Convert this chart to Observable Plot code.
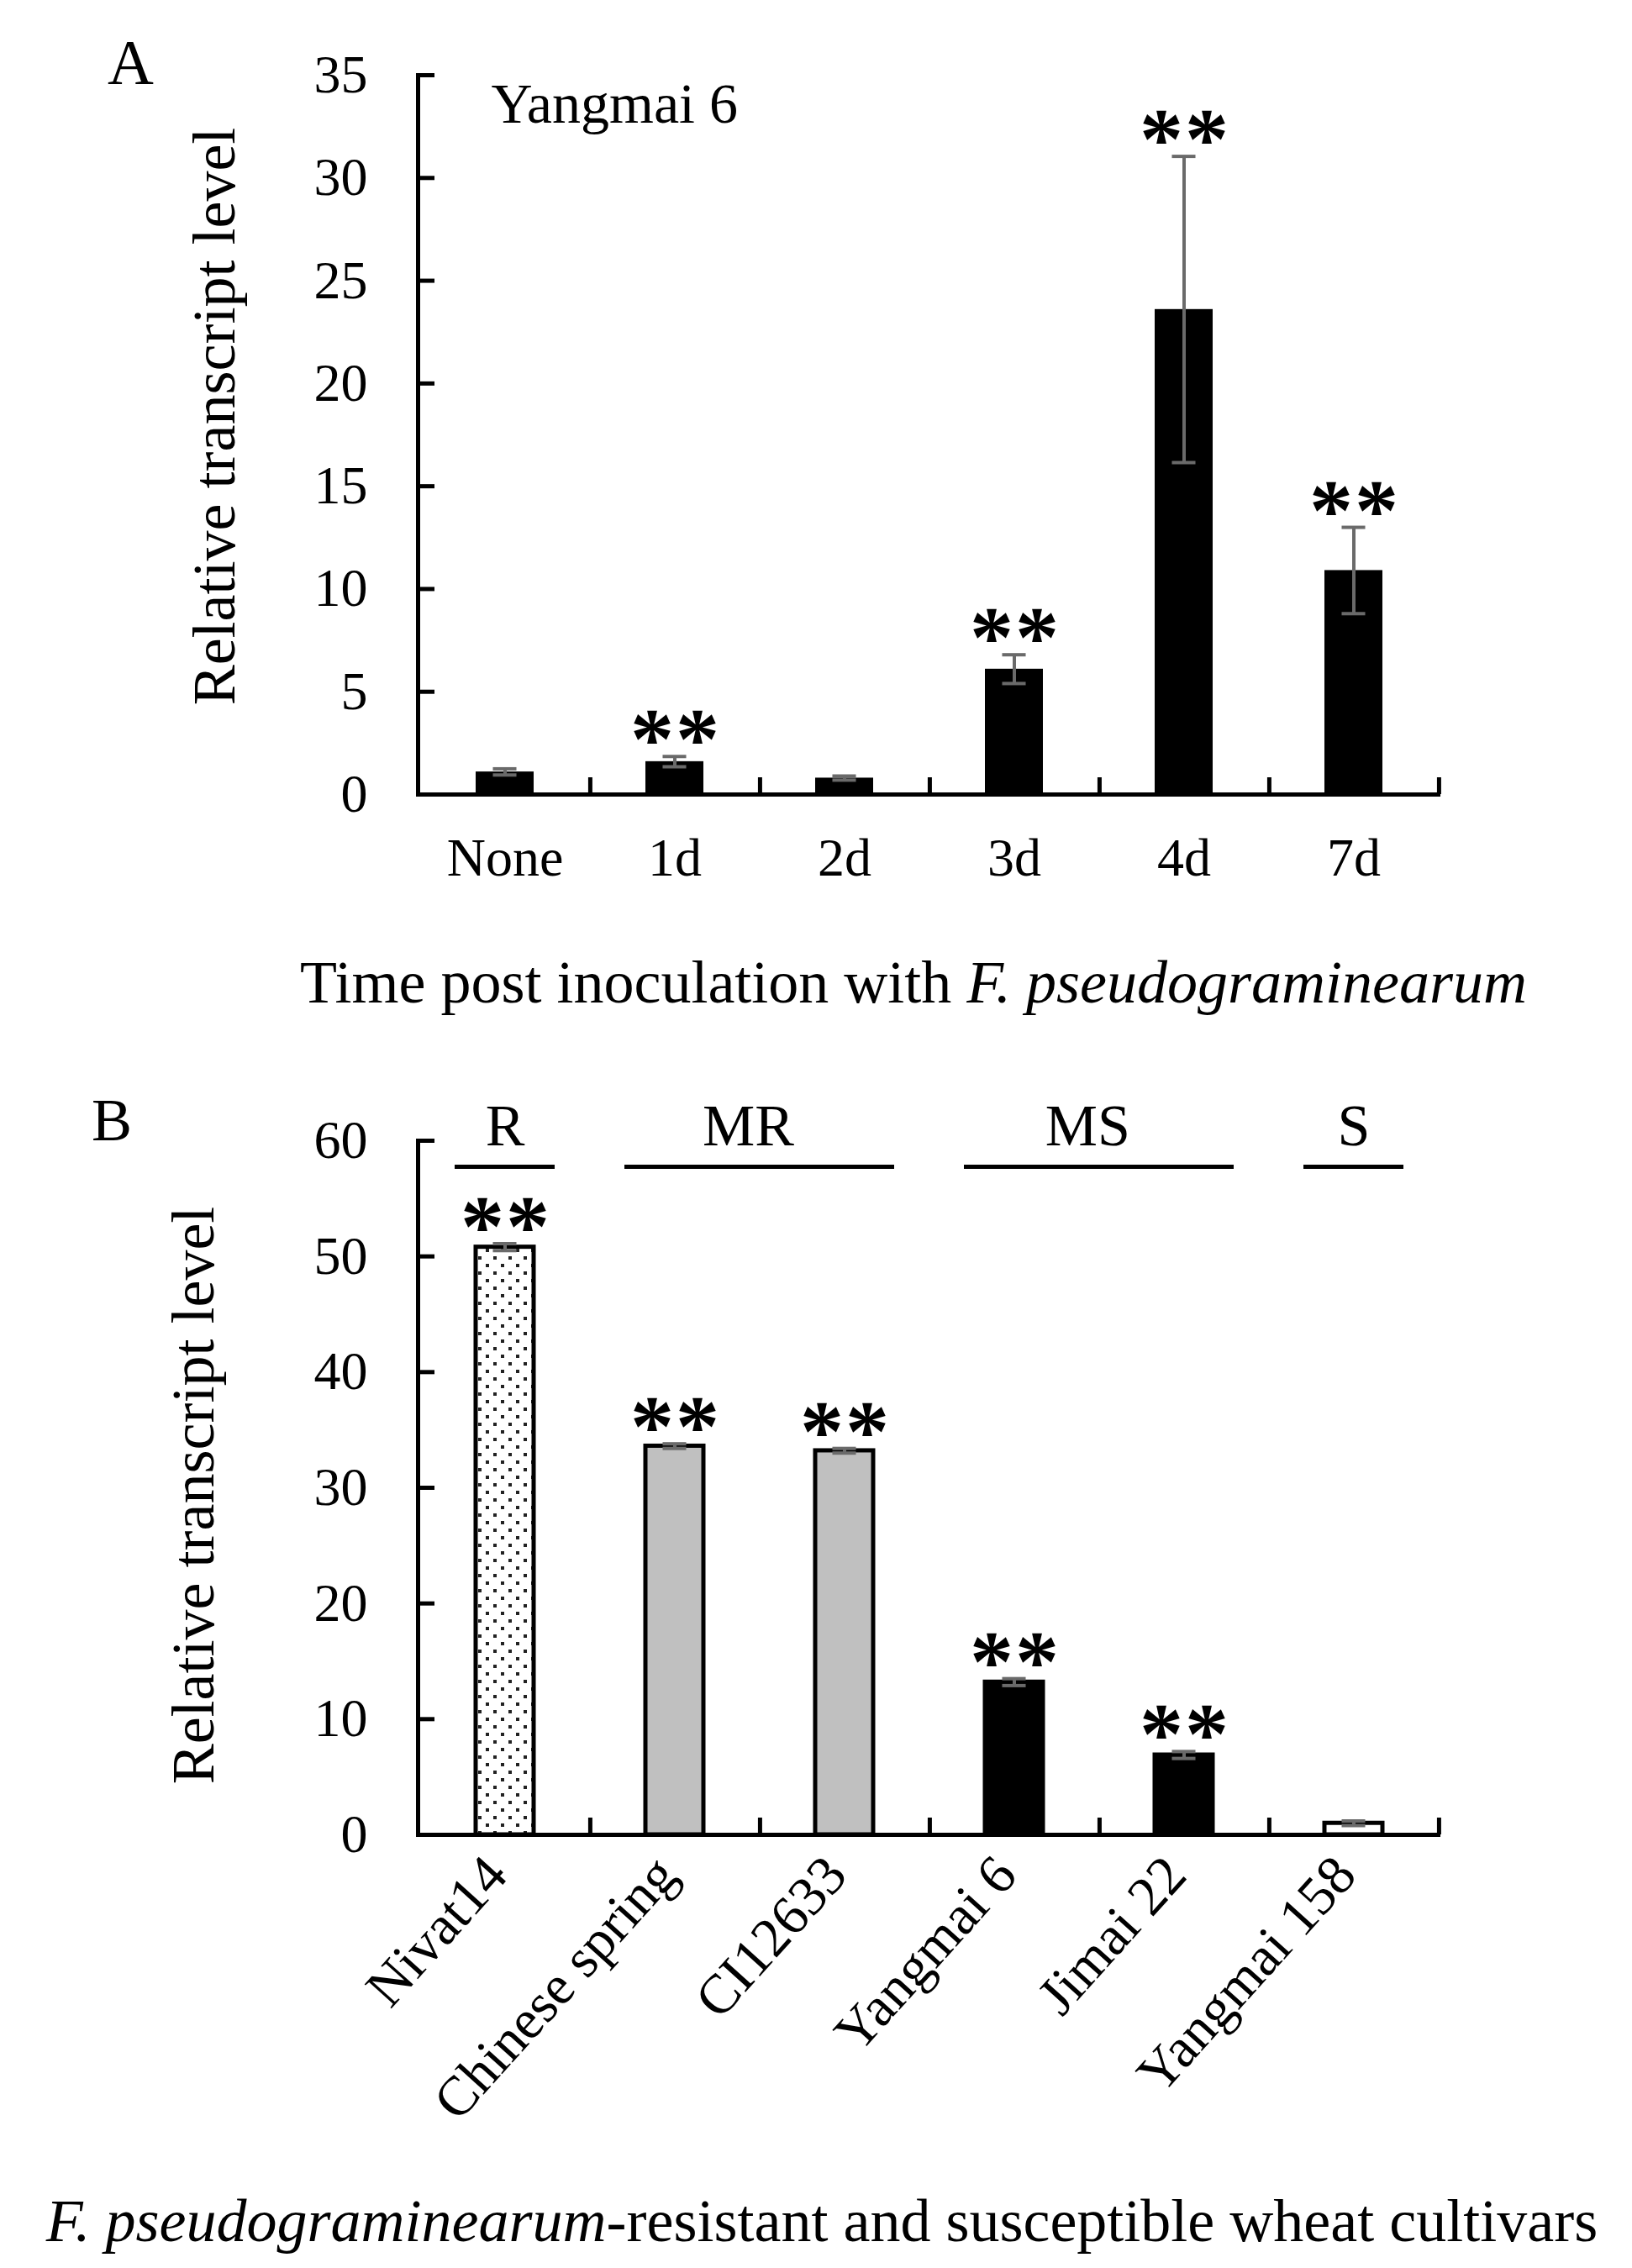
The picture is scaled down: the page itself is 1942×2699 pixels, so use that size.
<!DOCTYPE html>
<html><head><meta charset="utf-8">
<script src="https://cdn.jsdelivr.net/npm/d3@7"></script>
<script src="https://cdn.jsdelivr.net/npm/@observablehq/plot@0.6"></script>
<style>
body{margin:0;background:#fff;}
#root{position:relative;width:1942px;height:2699px;background:#fff;font-family:"Liberation Serif","Times New Roman",serif;color:#000;overflow:hidden}
.abs{position:absolute;white-space:nowrap;line-height:1}
.plot{position:absolute;left:0;overflow:visible}
</style></head><body>
<div id="root">
<svg width="0" height="0" style="position:absolute"><defs>
<pattern id="dots" patternUnits="userSpaceOnUse" width="18" height="18">
<rect width="18" height="18" fill="#fff"/>
<rect x="2" y="2" width="4" height="4" fill="#222"/>
<rect x="11" y="11" width="4" height="4" fill="#222"/>
</pattern></defs></svg>
</div>
<script>
// ---- Panel A data ----
const timeLabels = ["None", "1d", "2d", "3d", "4d", "7d"];
const timeMeans = [1.1, 1.6, 0.8, 6.1, 23.6, 10.9];
const timeErrors = [0.15, 0.25, 0.1, 0.7, 7.45, 2.1];
const timeSignif = ["", "**", "", "**", "**", "**"];
const yTicksA = [0, 5, 10, 15, 20, 25, 30, 35];
const panelAInset = "Yangmai 6";
const yTitle = "Relative transcript level";

// ---- Panel B data ----
const cultivars = ["Nivat14", "Chinese spring", "CI12633", "Yangmai 6", "Jimai 22", "Yangmai 158"];
const cultivarMeans = [50.8, 33.6, 33.2, 13.2, 6.9, 1.0];
const cultivarErrors = [0.3, 0.2, 0.2, 0.3, 0.3, 0.2];
const cultivarSignif = ["**", "**", "**", "**", "**", ""];
const yTicksB = [0, 10, 20, 30, 40, 50, 60];
const groupNames = ["R", "MR", "MS", "S"];
const groupFirst = ["Nivat14", "Chinese spring", "Yangmai 6", "Yangmai 158"];
const groupLast = ["Nivat14", "CI12633", "Jimai 22", "Yangmai 158"];

// ---- styles ----
const fillsB = ["url(#dots)", "#c0c0c0", "#c0c0c0", "#000", "#000", "#fff"];
const errColor = "#6a6a6a";
const FONT = "Liberation Serif";
const W = 1942, ML = 497, MR = 228;
const step = (W - ML - MR) / 6;
const pIn = 0.66;
const bandW = step * (1 - pIn);
const capInset = (bandW - 28) / 2;

const dataA = timeLabels.map((c, i) => ({cat: c, v: timeMeans[i], e: timeErrors[i], sig: timeSignif[i]}));
const dataB = cultivars.map((c, i) => ({cat: c, v: cultivarMeans[i], e: cultivarErrors[i], sig: cultivarSignif[i], fill: fillsB[i]}));
const groups = groupNames.map((g, i) => ({name: g, first: groupFirst[i], last: groupLast[i],
  span: cultivars.indexOf(groupLast[i]) - cultivars.indexOf(groupFirst[i])}));

function errMarks(data) {
  return [
    Plot.ruleX(data, {x: "cat", y1: d => d.v - d.e, y2: d => d.v + d.e, stroke: errColor, strokeWidth: 4}),
    Plot.tickY(data, {x: "cat", y: d => d.v + d.e, stroke: errColor, strokeWidth: 4, insetLeft: capInset, insetRight: capInset}),
    Plot.tickY(data, {x: "cat", y: d => d.v - d.e, stroke: errColor, strokeWidth: 4, insetLeft: capInset, insetRight: capInset})
  ];
}
function starMarks(data) {
  const s = data.filter(d => d.sig);
  return [-1, 1].map(k => Plot.text(s, {x: "cat", y: d => d.v + d.e, text: d => d.sig.slice(0, 1),
    lineAnchor: "bottom", dy: 14, dx: k * 27, fontSize: 104, fontWeight: "bold", fontFamily: FONT}));
}
function axisMarks(ticks) {
  return [
    Plot.axisY({ticks, tickSize: 20, dx: 20, fill: "none", strokeWidth: 5, label: null}),
    Plot.axisY({ticks, tickSize: 0, tickPadding: 60, label: null, fontSize: 64}),
    Plot.axisX({tickSize: 20, dy: -20, dx: step / 2, fill: "none", strokeWidth: 5, label: null}),
    Plot.frame({anchor: "left", strokeWidth: 5}),
    Plot.ruleY([0], {stroke: "#000", strokeWidth: 5})
  ];
}

// ---- Panel A ----
const plotA = Plot.plot({
  width: W, height: 1100,
  marginTop: 89, marginBottom: 155, marginLeft: ML, marginRight: MR,
  style: {fontFamily: FONT, fontSize: "64px", color: "#000", background: "transparent"},
  x: {domain: timeLabels, paddingInner: pIn, paddingOuter: pIn / 2, axis: null},
  y: {domain: [0, 35], axis: null},
  marks: [
    Plot.barY(dataA, {x: "cat", y: "v", fill: "#000"}),
    ...errMarks(dataA),
    ...starMarks(dataA),
    ...axisMarks(yTicksA),
    Plot.axisX({tickSize: 0, tickPadding: 51, label: null, fontSize: 64}),
    Plot.text([panelAInset], {frameAnchor: "top-left", textAnchor: "start", lineAnchor: "bottom", dx: 87, dy: 56, fontSize: 68}),
    Plot.text([yTitle], {frameAnchor: "left", textAnchor: "middle", rotate: -90, dx: 255 - ML, dy: -22, fontSize: 72})
  ]
});
plotA.classList.add("plot");
plotA.style.top = "0px";

// ---- Panel B ----
const plotB = Plot.plot({
  width: W, height: 1449,
  marginTop: 107, marginBottom: 516, marginLeft: ML, marginRight: MR,
  style: {fontFamily: FONT, fontSize: "64px", color: "#000", background: "transparent"},
  x: {domain: cultivars, paddingInner: pIn, paddingOuter: pIn / 2, axis: null},
  y: {domain: [0, 60], axis: null},
  color: {type: "identity"},
  marks: [
    Plot.barY(dataB, {x: "cat", y: "v", fill: "fill", stroke: "#000", strokeWidth: 5}),
    ...errMarks(dataB),
    ...starMarks(dataB),
    ...axisMarks(yTicksB),
    Plot.axisX({tickSize: 0, tickPadding: 36, tickRotate: -48, dx: -10, label: null, fontSize: 66}),
    ...groups.map(g => Plot.ruleY([g], {y: () => 60, x1: "first", x2: "last", dy: 31, stroke: "#000", strokeWidth: 5, insetLeft: -25, insetRight: -25})),
    ...groups.map(g => Plot.text([g], {x: "first", y: () => 60, text: "name", dy: 5, dx: g.span * step / 2 - g.span * 14, lineAnchor: "bottom", fontSize: 70})),
    Plot.text([yTitle], {frameAnchor: "left", textAnchor: "middle", rotate: -90, dx: 230 - ML, dy: 9, fontSize: 72})
  ]
});
plotB.classList.add("plot");
plotB.style.top = "1250px";

const root = document.getElementById("root");
root.appendChild(plotA);
root.appendChild(plotB);

function addText(html, left, baseline, size, center) {
  const d = document.createElement("div");
  d.className = "abs";
  d.innerHTML = html;
  d.style.fontSize = size + "px";
  d.style.left = left + "px";
  d.style.top = (baseline - 0.8375 * size) + "px";
  if (center) d.style.transform = "translateX(-50%)";
  root.appendChild(d);
}
addText("A", 128, 100, 76, false);
addText("B", 109, 1357, 72, false);
addText("Time post inoculation with <i>F. pseudograminearum</i>", 1087, 1193, 72, true);
addText("<i>F. pseudograminearum</i>-resistant and susceptible wheat cultivars", 978, 2667, 72, true);
</script>
</body></html>
